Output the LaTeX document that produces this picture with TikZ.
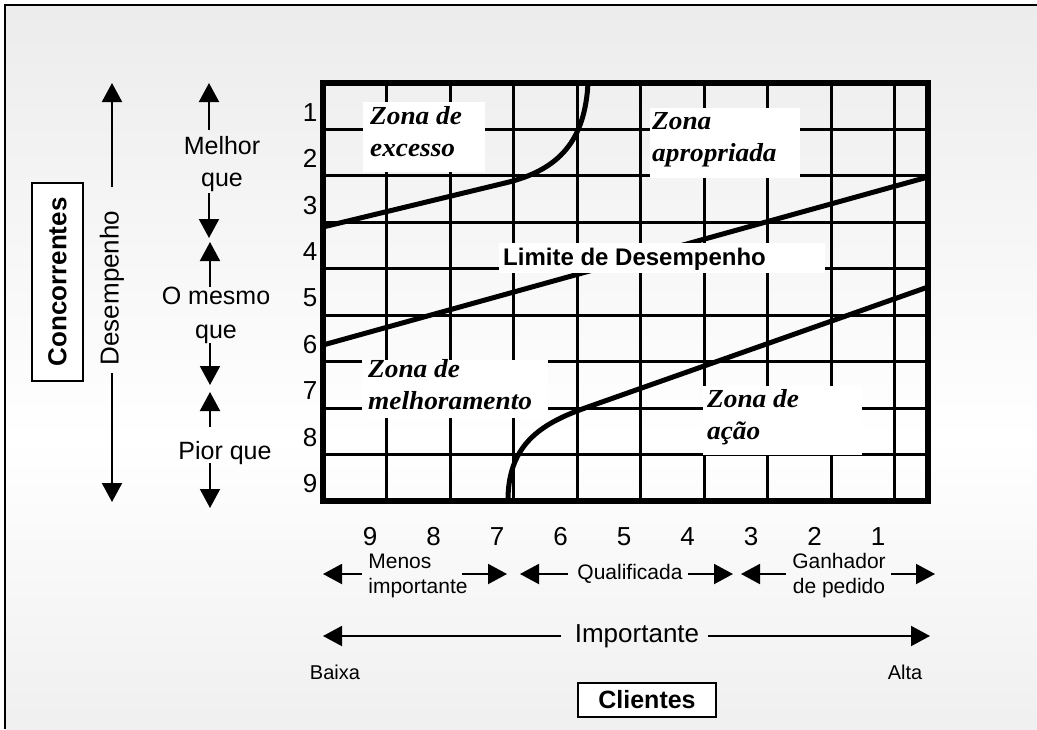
\documentclass[tikz,border=0pt]{standalone}
\usepackage{fontspec}
\setmainfont{Liberation Sans}
\newfontfamily\zonefont[FakeStretch=1.05]{Liberation Serif}
\usetikzlibrary{arrows.meta}
\definecolor{panelgray}{RGB}{220,220,220}
\pgfdeclareverticalshading{panelbg}{100bp}{color(0bp)=(panelgray); color(45bp)=(white); color(100bp)=(panelgray)}
\newcommand{\fs}[1]{\fontsize{#1}{#1}\selectfont}
\begin{document}
\begin{tikzpicture}[x=1pt,y=-1pt,
  arr/.style={line width=2pt,-{Triangle[width=20pt,length=19pt]}},
  gridline/.style={line width=3pt},
  curve/.style={line width=5pt},
  txt/.style={inner sep=0pt,font=\fs{25}},
  num/.style={inner sep=0pt,font=\fs{26},anchor=base},
  cat/.style={inner sep=0pt,font=\fs{21},align=left},
  zonetext/.style={font=\zonefont\bfseries\itshape\fontsize{26}{32}\selectfont,align=left,inner sep=0pt,anchor=north west},
  boxed/.style={draw,line width=1.5pt,fill=white,inner sep=0pt}]
\useasboundingbox (0,0) rectangle (1037,729);
% panel background and frame
\shade[shading=panelbg] (5,5) rectangle (1037,729);
\draw[line width=1.5pt] (5,729) -- (5,5) -- (1037,5);

% grid
\foreach \i in {1,...,9} \draw[gridline] ({323+63.5*\i},83) -- ({323+63.5*\i},501);
\foreach \j in {1,...,8} \draw[gridline] (323,{83+46.44*\j}) -- (928,{83+46.44*\j});

% zone boundaries
\draw[curve] (323,227) -- (505,183) .. controls (560,170) and (585,140) .. (588,83);
\draw[curve] (323,345) -- (928,177);
\draw[curve] (508,498) .. controls (509,445) and (540,424) .. (585,408) -- (928,287);

\draw[line width=6pt] (323,83) rectangle (928,501);

% zone labels
\fill[white] (363,102) rectangle (485,172);
\node[zonetext] (zexc) at (370,106) {Zona de\\excesso};
\fill[white] (650,108) rectangle (800,178);
\node[zonetext] (zapr) at (652,112) {Zona\\apropriada};
\fill[white] (362,360) rectangle (548,418);
\node[zonetext] (zmel) at (368,359) {Zona de\\melhoramento};
\fill[white] (703,386) rectangle (862,455);
\node[zonetext] (zaca) at (707,389) {Zona de\\ação};
\fill[white] (499,243) rectangle (825,273);
\node[inner sep=0pt,font=\bfseries\fs{24},anchor=west] (limite) at (503,259) {Limite de Desempenho};

% row scale
\foreach \k in {1,...,9} \node[num] (r\k) at (310,{83+46.44*(\k-0.5)+15}) {\k};
% column scale
\foreach \k in {1,...,9} \node[num] (c\k) at ({370+63.5*(9-\k)},545) {\k};

% competitors axis
\node[boxed,rotate=90,minimum width=198pt,minimum height=51pt,font=\bfseries\fs{26}] (conc) at (57.5,282) {Concorrentes};
\node[txt,rotate=90,font=\fs{26}] (desemp) at (112,288) {Desempenho};
\coordinate (dA) at (112,187); \coordinate (dTop) at (112,83);
\coordinate (dB) at (112,373); \coordinate (dBot) at (112,502);
\draw[arr] (dA) -- (dTop);
\draw[arr] (dB) -- (dBot);

\node[txt,align=center,font=\fontsize{25}{32}\selectfont] (melhor) at (222,164) {Melhor\\que};
\coordinate (m1) at (209,130); \coordinate (m1t) at (209,83);
\coordinate (m2) at (209,193); \coordinate (m2t) at (209,238);
\draw[arr] (m1) -- (m1t); \draw[arr] (m2) -- (m2t);

\node[txt,align=center,font=\fontsize{25}{34}\selectfont] (mesmo) at (216,315) {O mesmo\\que};
\coordinate (o1) at (210,287); \coordinate (o1t) at (210,242);
\coordinate (o2) at (210,343); \coordinate (o2t) at (210,385);
\draw[arr] (o1) -- (o1t); \draw[arr] (o2) -- (o2t);

\node[txt] (pior) at (225,453) {Pior que};
\coordinate (p1) at (210,427); \coordinate (p1t) at (210,392);
\coordinate (p2) at (210,463); \coordinate (p2t) at (210,508);
\draw[arr] (p1) -- (p1t); \draw[arr] (p2) -- (p2t);

% customers axis
\node[cat,font=\fontsize{21}{25}\selectfont] (menos) at (418,576) {Menos\\importante};
\coordinate (a1) at (362,574); \coordinate (a1t) at (323,574);
\coordinate (a2) at (462,574); \coordinate (a2t) at (507,574);
\draw[arr] (a1) -- (a1t); \draw[arr] (a2) -- (a2t);

\node[cat] (qual) at (630,574) {Qualificada};
\coordinate (b1) at (568,574); \coordinate (b1t) at (520,574);
\coordinate (b2) at (688,574); \coordinate (b2t) at (733,574);
\draw[arr] (b1) -- (b1t); \draw[arr] (b2) -- (b2t);

\node[cat,align=center,font=\fontsize{21}{25}\selectfont] (ganh) at (839,576) {Ganhador\\de pedido};
\coordinate (g1) at (786,574); \coordinate (g1t) at (741,574);
\coordinate (g2) at (891,574); \coordinate (g2t) at (935,574);
\draw[arr] (g1) -- (g1t); \draw[arr] (g2) -- (g2t);

\node[txt,font=\fs{26}] (imp) at (637,636) {Importante};
\coordinate (i1) at (561,636); \coordinate (i1t) at (323,636);
\coordinate (i2) at (708,636); \coordinate (i2t) at (930,636);
\draw[arr] (i1) -- (i1t); \draw[arr] (i2) -- (i2t);

\node[inner sep=0pt,font=\fs{20}] (baixa) at (335,672) {Baixa};
\node[inner sep=0pt,font=\fs{20}] (alta) at (905,672) {Alta};
\node[boxed,minimum width=138pt,minimum height=34pt,font=\bfseries\fs{25}] (clientes) at (647,700) {Clientes};
\end{tikzpicture}
\end{document}
